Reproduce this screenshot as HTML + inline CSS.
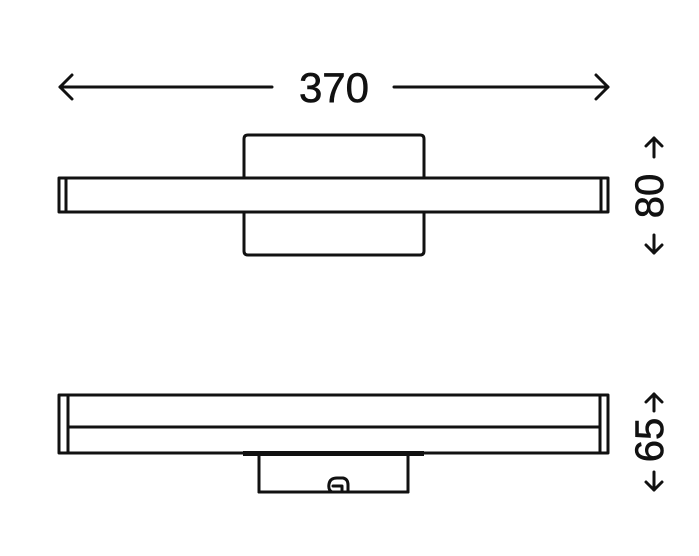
<!DOCTYPE html>
<html><head><style>
html,body{margin:0;padding:0;background:#fff;}
</style></head><body>
<svg width="699" height="551" viewBox="0 0 699 551" xmlns="http://www.w3.org/2000/svg">
<g fill="none" stroke="#111" stroke-width="3" stroke-linecap="round" stroke-linejoin="round">
<!-- dimension 370 -->
<line x1="60" y1="87" x2="272" y2="87"/>
<polyline points="72,75 60,87 72,99"/>
<line x1="394" y1="87" x2="608" y2="87"/>
<polyline points="596,75 608,87 596,99"/>
<!-- top view -->
<path d="M244,177 V139 Q244,135 248,135 H420 Q424,135 424,139 V177"/>
<path d="M244,212 V251 Q244,255 248,255 H420 Q424,255 424,251 V212"/>
<rect x="59" y="178" width="549" height="34"/>
<line x1="66" y1="179" x2="66" y2="211"/>
<line x1="601" y1="179" x2="601" y2="211"/>
<!-- bottom view -->
<rect x="59" y="395" width="549" height="58"/>
<line x1="68" y1="396" x2="68" y2="452"/>
<line x1="600" y1="396" x2="600" y2="452"/>
<line x1="68" y1="427" x2="600" y2="427"/>
<path d="M259,456 V492 H408 V456"/>
<path d="M259,492 H332 Q328,490 329,484 Q330,478 337,478 H343 Q348,479 348,485 V492 H408"/>
<path d="M333,486 H342 V490"/>
<!-- vertical arrows -->
<line x1="654" y1="138" x2="654" y2="157"/>
<polyline points="646,146 654,138 662,146"/>
<line x1="654" y1="235" x2="654" y2="253"/>
<polyline points="646,245 654,253 662,245"/>
<line x1="654" y1="394" x2="654" y2="411"/>
<polyline points="646,402 654,394 662,402"/>
<line x1="654" y1="472" x2="654" y2="490"/>
<polyline points="646,482 654,490 662,482"/>
</g>
<rect x="243" y="451" width="181" height="5" fill="#111"/>
<g font-family="Liberation Sans, sans-serif" fill="#111" stroke="#111" stroke-width="0.6">
<text x="334" y="102" font-size="42" text-anchor="middle">370</text>
<text transform="translate(663,196) rotate(-90)" font-size="40" text-anchor="middle">80</text>
<text transform="translate(663,440) rotate(-90)" font-size="40" text-anchor="middle">65</text>
</g>
</svg>
</body></html>
